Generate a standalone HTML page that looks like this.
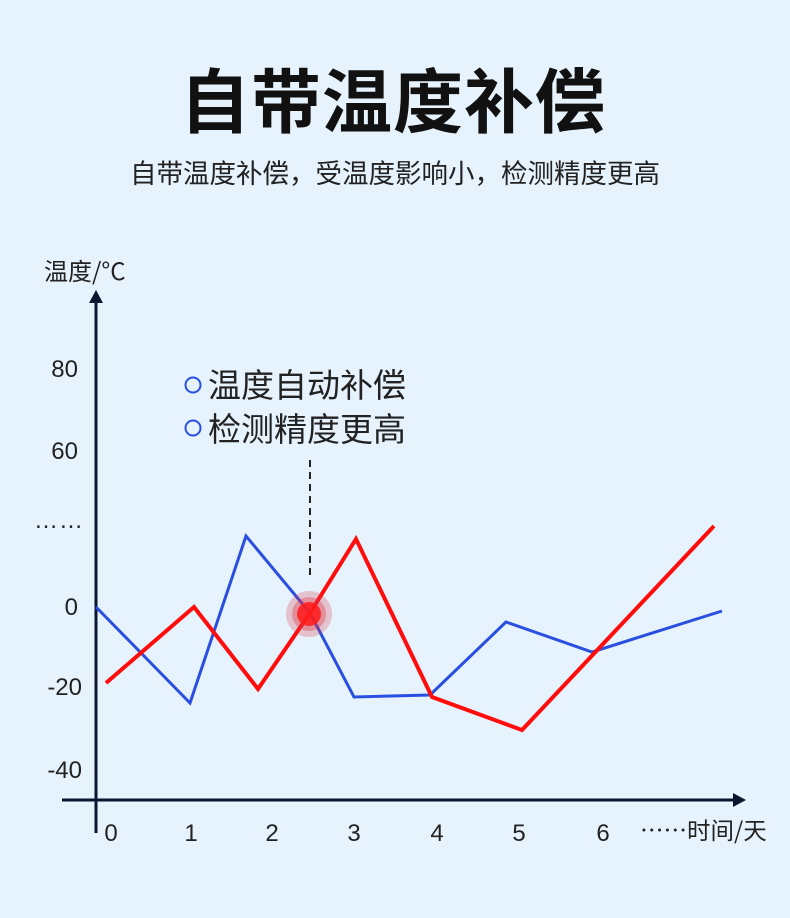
<!DOCTYPE html>
<html><head><meta charset="utf-8"><style>
body{margin:0;background:#e6f3fc;}
svg{display:block}
text{font-family:"Liberation Sans","Noto Sans CJK SC",sans-serif;}
</style></head><body>
<svg width="790" height="918" viewBox="0 0 790 918" xmlns="http://www.w3.org/2000/svg">
<rect width="790" height="918" fill="#e6f3fc"/>
<text x="393" y="127" text-anchor="middle" font-size="70" font-weight="bold" fill="#111" style="font-family:'Noto Sans CJK SC',sans-serif;letter-spacing:1px">自带温度补偿</text>
<text x="395" y="183" text-anchor="middle" font-size="26.5" fill="#222" style="font-family:'Noto Sans CJK SC',sans-serif">自带温度补偿，受温度影响小，检测精度更高</text>
<text x="44" y="280" font-size="24" fill="#222" style="font-family:'Noto Sans CJK SC',sans-serif">温度/°C</text>
<line x1="96" y1="300" x2="96" y2="833" stroke="#0c1530" stroke-width="3"/>
<polygon points="96,290 89,303 103,303" fill="#0c1530"/>
<line x1="62" y1="800" x2="736" y2="800" stroke="#0c1530" stroke-width="3"/>
<polygon points="746,800 733,793 733,807" fill="#0c1530"/>
<g font-size="24" fill="#222" text-anchor="end">
<text x="78" y="377">80</text>
<text x="78" y="459">60</text>
<text x="84" y="528" letter-spacing="1">……</text>
<text x="78" y="615">0</text>
<text x="82" y="695">-20</text>
<text x="82" y="778">-40</text>
</g>
<g font-size="24" fill="#222" text-anchor="middle">
<text x="111" y="841">0</text><text x="191" y="841">1</text><text x="272" y="841">2</text>
<text x="354" y="841">3</text><text x="437" y="841">4</text><text x="519" y="841">5</text><text x="603" y="841">6</text>
</g>
<text x="640" y="839" font-size="23.5" fill="#222" style="font-family:'Noto Sans CJK SC',sans-serif">……时间/天</text>
<circle cx="193" cy="385" r="7.5" fill="none" stroke="#2a4fe0" stroke-width="2"/>
<circle cx="193" cy="428" r="7.5" fill="none" stroke="#2a4fe0" stroke-width="2"/>
<text x="208" y="397" font-size="33" fill="#222" style="font-family:'Noto Sans CJK SC',sans-serif">温度自动补偿</text>
<text x="208" y="441" font-size="33" fill="#222" style="font-family:'Noto Sans CJK SC',sans-serif">检测精度更高</text>
<line x1="310" y1="460" x2="310" y2="578" stroke="#222" stroke-width="2" stroke-dasharray="7,5"/>
<polyline points="96,607 190,703 246,536 310,613 354,697 430,695 506,622 592,652 722,611" fill="none" stroke="#2a4fe0" stroke-width="3"/>
<polyline points="106,683 194,607 258,689 310,613 356,539 432,697 522,730 714,526" fill="none" stroke="#ff0d0d" stroke-width="4"/>
<circle cx="309" cy="614" r="23" fill="#e03040" opacity="0.25"/>
<circle cx="309" cy="614" r="17" fill="#e03040" opacity="0.35"/>
<circle cx="309" cy="614" r="12" fill="#ff1a1a" opacity="0.85"/>
</svg>
</body></html>
